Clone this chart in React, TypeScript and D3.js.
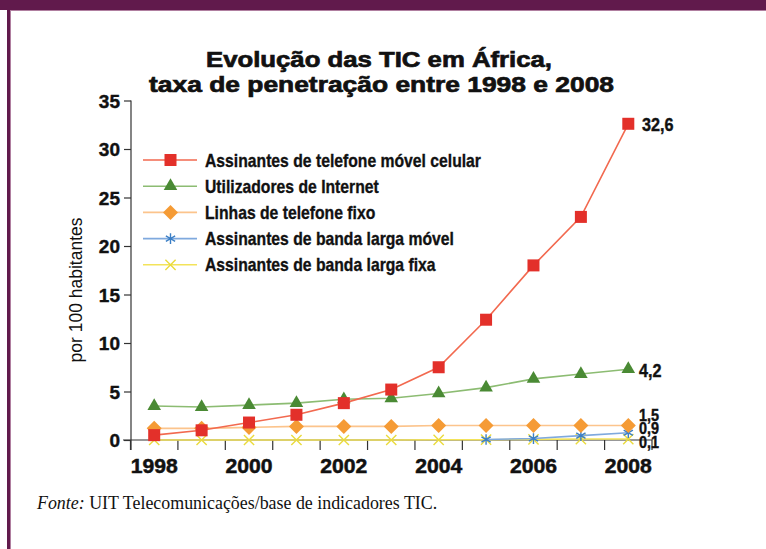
import { useEffect, useRef } from "react";
import * as d3 from "d3";

const years = [1998, 1999, 2000, 2001, 2002, 2003, 2004, 2005, 2006, 2007, 2008];
const tickYears = [1998, 2000, 2002, 2004, 2006, 2008];
const yTicks = [0, 5, 10, 15, 20, 25, 30, 35];

const movel = [0.5, 1.0, 1.8, 2.6, 3.8, 5.2, 7.5, 12.4, 18.0, 23.0, 32.6];
const internet = [3.5, 3.4, 3.6, 3.8, 4.2, 4.3, 4.8, 5.4, 6.3, 6.8, 7.3];
const fixo = [1.2, 1.2, 1.3, 1.4, 1.4, 1.4, 1.5, 1.5, 1.5, 1.5, 1.5];
const bandaMovel = [null, null, null, null, null, null, null, 0.05, 0.15, 0.45, 0.75];
const bandaFixa = [0, 0, 0, 0, 0, 0, 0.02, 0.03, 0.06, 0.1, 0.1];

const seriesNames = [
  "Assinantes de telefone móvel celular",
  "Utilizadores de Internet",
  "Linhas de telefone fixo",
  "Assinantes de banda larga móvel",
  "Assinantes de banda larga fixa",
];
const endLabels = ["32,6", "4,2", "1,5", "0,9", "0,1"];

const App = () => {
  const svgRef = useRef<SVGSVGElement>(null);

  useEffect(() => {
    const width = 766;
    const height = 549;
    const svg = d3.select(svgRef.current);
    svg.selectAll("*").remove();

    // frame
    svg.append("rect").attr("width", width).attr("height", height).attr("fill", "#fff");
    svg.append("rect").attr("x", 0).attr("y", 0).attr("width", width).attr("height", 10).attr("fill", "#611a4c");
    svg.append("rect").attr("x", 7).attr("y", 0).attr("width", 3).attr("height", height).attr("fill", "#611a4c");
    svg.append("rect").attr("x", 10).attr("y", 10).attr("width", 1).attr("height", height).attr("fill", "#b07fa0");
    svg.append("rect").attr("x", 10).attr("y", 10).attr("width", width).attr("height", 1).attr("fill", "#b07fa0");

    const x = d3.scaleBand<number>().domain(years).range([130.5, 652]);
    const xc = (yr: number) => (x(yr) as number) + x.bandwidth() / 2;
    const y = d3.scaleLinear().domain([0, 35]).range([440, 100.5]);

    const bold = "'Liberation Sans', Arial, sans-serif";

    // title
    const title = svg.append("g").attr("font-family", bold).attr("font-weight", "bold")
      .attr("font-size", 22).attr("fill", "#111").attr("stroke", "#111").attr("stroke-width", 0.7)
      .attr("text-anchor", "middle");
    title.append("text").attr("x", 379).attr("y", 67).attr("textLength", 346)
      .attr("lengthAdjust", "spacingAndGlyphs").text("Evolução das TIC em África,");
    title.append("text").attr("x", 381.5).attr("y", 92).attr("textLength", 465)
      .attr("lengthAdjust", "spacingAndGlyphs").text("taxa de penetração entre 1998 e 2008");

    // y axis
    const gy = svg.append("g").attr("transform", "translate(131,0)")
      .call(d3.axisLeft(y).tickValues(yTicks).tickSize(7).tickPadding(4).tickSizeOuter(0));
    gy.select(".domain").attr("d", `M0,${y(35)}V450`).attr("stroke", "#333").attr("stroke-width", 1.2);
    gy.selectAll(".tick line").attr("stroke", "#333").attr("stroke-width", 1.2);
    gy.selectAll(".tick text").attr("font-family", bold).attr("font-weight", "bold")
      .attr("font-size", 19).attr("fill", "#111").attr("stroke", "#111").attr("stroke-width", 0.4)
      .attr("dy", "0.35em");

    // x axis
    const gx = svg.append("g").attr("transform", "translate(0,440)");
    gx.append("line").attr("x1", 123).attr("x2", 652).attr("stroke", "#333").attr("stroke-width", 1.2);
    gx.selectAll("line.tk").data(years.concat([2009])).enter().append("line")
      .attr("class", "tk")
      .attr("x1", (d) => (d === 2009 ? 652 : (x(d) as number)))
      .attr("x2", (d) => (d === 2009 ? 652 : (x(d) as number)))
      .attr("y1", 0).attr("y2", 10).attr("stroke", "#333").attr("stroke-width", 1.2);
    gx.selectAll("text").data(tickYears).enter().append("text")
      .attr("x", (d) => xc(d)).attr("y", 33).attr("text-anchor", "middle")
      .attr("font-family", bold).attr("font-weight", "bold").attr("font-size", 20)
      .attr("fill", "#111").attr("stroke", "#111").attr("stroke-width", 0.5)
      .attr("textLength", 47).attr("lengthAdjust", "spacingAndGlyphs")
      .text((d) => d);

    // y label
    svg.append("text").attr("transform", "translate(82,290) rotate(-90)").attr("text-anchor", "middle")
      .attr("font-family", bold).attr("font-size", 17.5).attr("fill", "#111").text("por 100 habitantes");

    const lineColors = ["#f2694f", "#8cbc72", "#fcc48c", "#7fa9de", "#f3e35a"];
    const markColors = ["#e3302a", "#4a8a34", "#f59b35", "#3b7fc6", "#eadb3c"];
    const data = [movel, internet, fixo, bandaMovel, bandaFixa];

    const drawMarker = (g: any, i: number, cx: number, cy: number) => {
      const c = markColors[i];
      if (i === 0) {
        g.append("rect").attr("x", cx - 6).attr("y", cy - 6).attr("width", 12).attr("height", 12).attr("fill", c);
      } else if (i === 1) {
        g.append("path").attr("d", d3.symbol(d3.symbolTriangle, 80)()).attr("transform", `translate(${cx},${cy})`).attr("fill", c);
      } else if (i === 2) {
        g.append("path").attr("d", "M0,-7.5L7.5,0L0,7.5L-7.5,0Z").attr("transform", `translate(${cx},${cy})`).attr("fill", c);
      } else if (i === 3) {
        g.append("path").attr("d", d3.symbol(d3.symbolAsterisk, 80)()).attr("transform", `translate(${cx},${cy})`)
          .attr("stroke", c).attr("stroke-width", 1.4).attr("fill", "none");
      } else {
        g.append("path").attr("d", d3.symbol(d3.symbolTimes, 70)()).attr("transform", `translate(${cx},${cy})`)
          .attr("stroke", c).attr("stroke-width", 1.4).attr("fill", "none");
      }
    };

    // draw series (back to front)
    [4, 3, 2, 1, 0].forEach((i) => {
      const vals = data[i];
      const pts = years.map((yr, k) => ({ yr, v: vals[k] })).filter((p) => p.v !== null) as { yr: number; v: number }[];
      const line = d3.line<{ yr: number; v: number }>().x((p) => xc(p.yr)).y((p) => y(p.v));
      const g = svg.append("g");
      g.append("path").attr("d", line(pts)).attr("fill", "none").attr("stroke", lineColors[i]).attr("stroke-width", 1.6);
      pts.forEach((p) => drawMarker(g, i, xc(p.yr), y(p.v)));
    });

    // legend
    const lg = svg.append("g");
    seriesNames.forEach((name, i) => {
      const ly = 160 + i * 26.2;
      lg.append("line").attr("x1", 143).attr("x2", 197).attr("y1", ly).attr("y2", ly)
        .attr("stroke", lineColors[i]).attr("stroke-width", 1.6);
      drawMarker(lg, i, 170.5, ly);
      lg.append("text").attr("transform", `translate(205,${ly + 6.5}) scale(0.85,1)`).attr("font-family", bold)
        .attr("font-weight", "bold").attr("font-size", 18.5).attr("fill", "#111")
        .attr("stroke", "#111").attr("stroke-width", 0.35).text(name);
    });

    // end labels
    const endY = [131, 377, 421, 434, 448];
    endLabels.forEach((t, i) => {
      svg.append("text").attr("transform", `translate(${i === 0 ? 642 : 639},${endY[i]}) scale(0.9,1)`)
        .attr("font-family", bold).attr("font-weight", "bold").attr("font-size", i < 2 ? 18 : 16)
        .attr("fill", "#111").attr("stroke", "#111").attr("stroke-width", 0.4).text(t);
    });

    // source
    const src = svg.append("text").attr("x", 37).attr("y", 509).attr("font-family", "'Liberation Serif', 'Times New Roman', serif")
      .attr("font-size", 17.9).attr("fill", "#111");
    src.append("tspan").attr("font-style", "italic").text("Fonte:");
    src.append("tspan").text(" UIT Telecomunicações/base de indicadores TIC.");
  }, []);

  return <svg ref={svgRef} width={766} height={549} style={{ position: "absolute", left: 0, top: 0 }}></svg>;
};

export default App;
